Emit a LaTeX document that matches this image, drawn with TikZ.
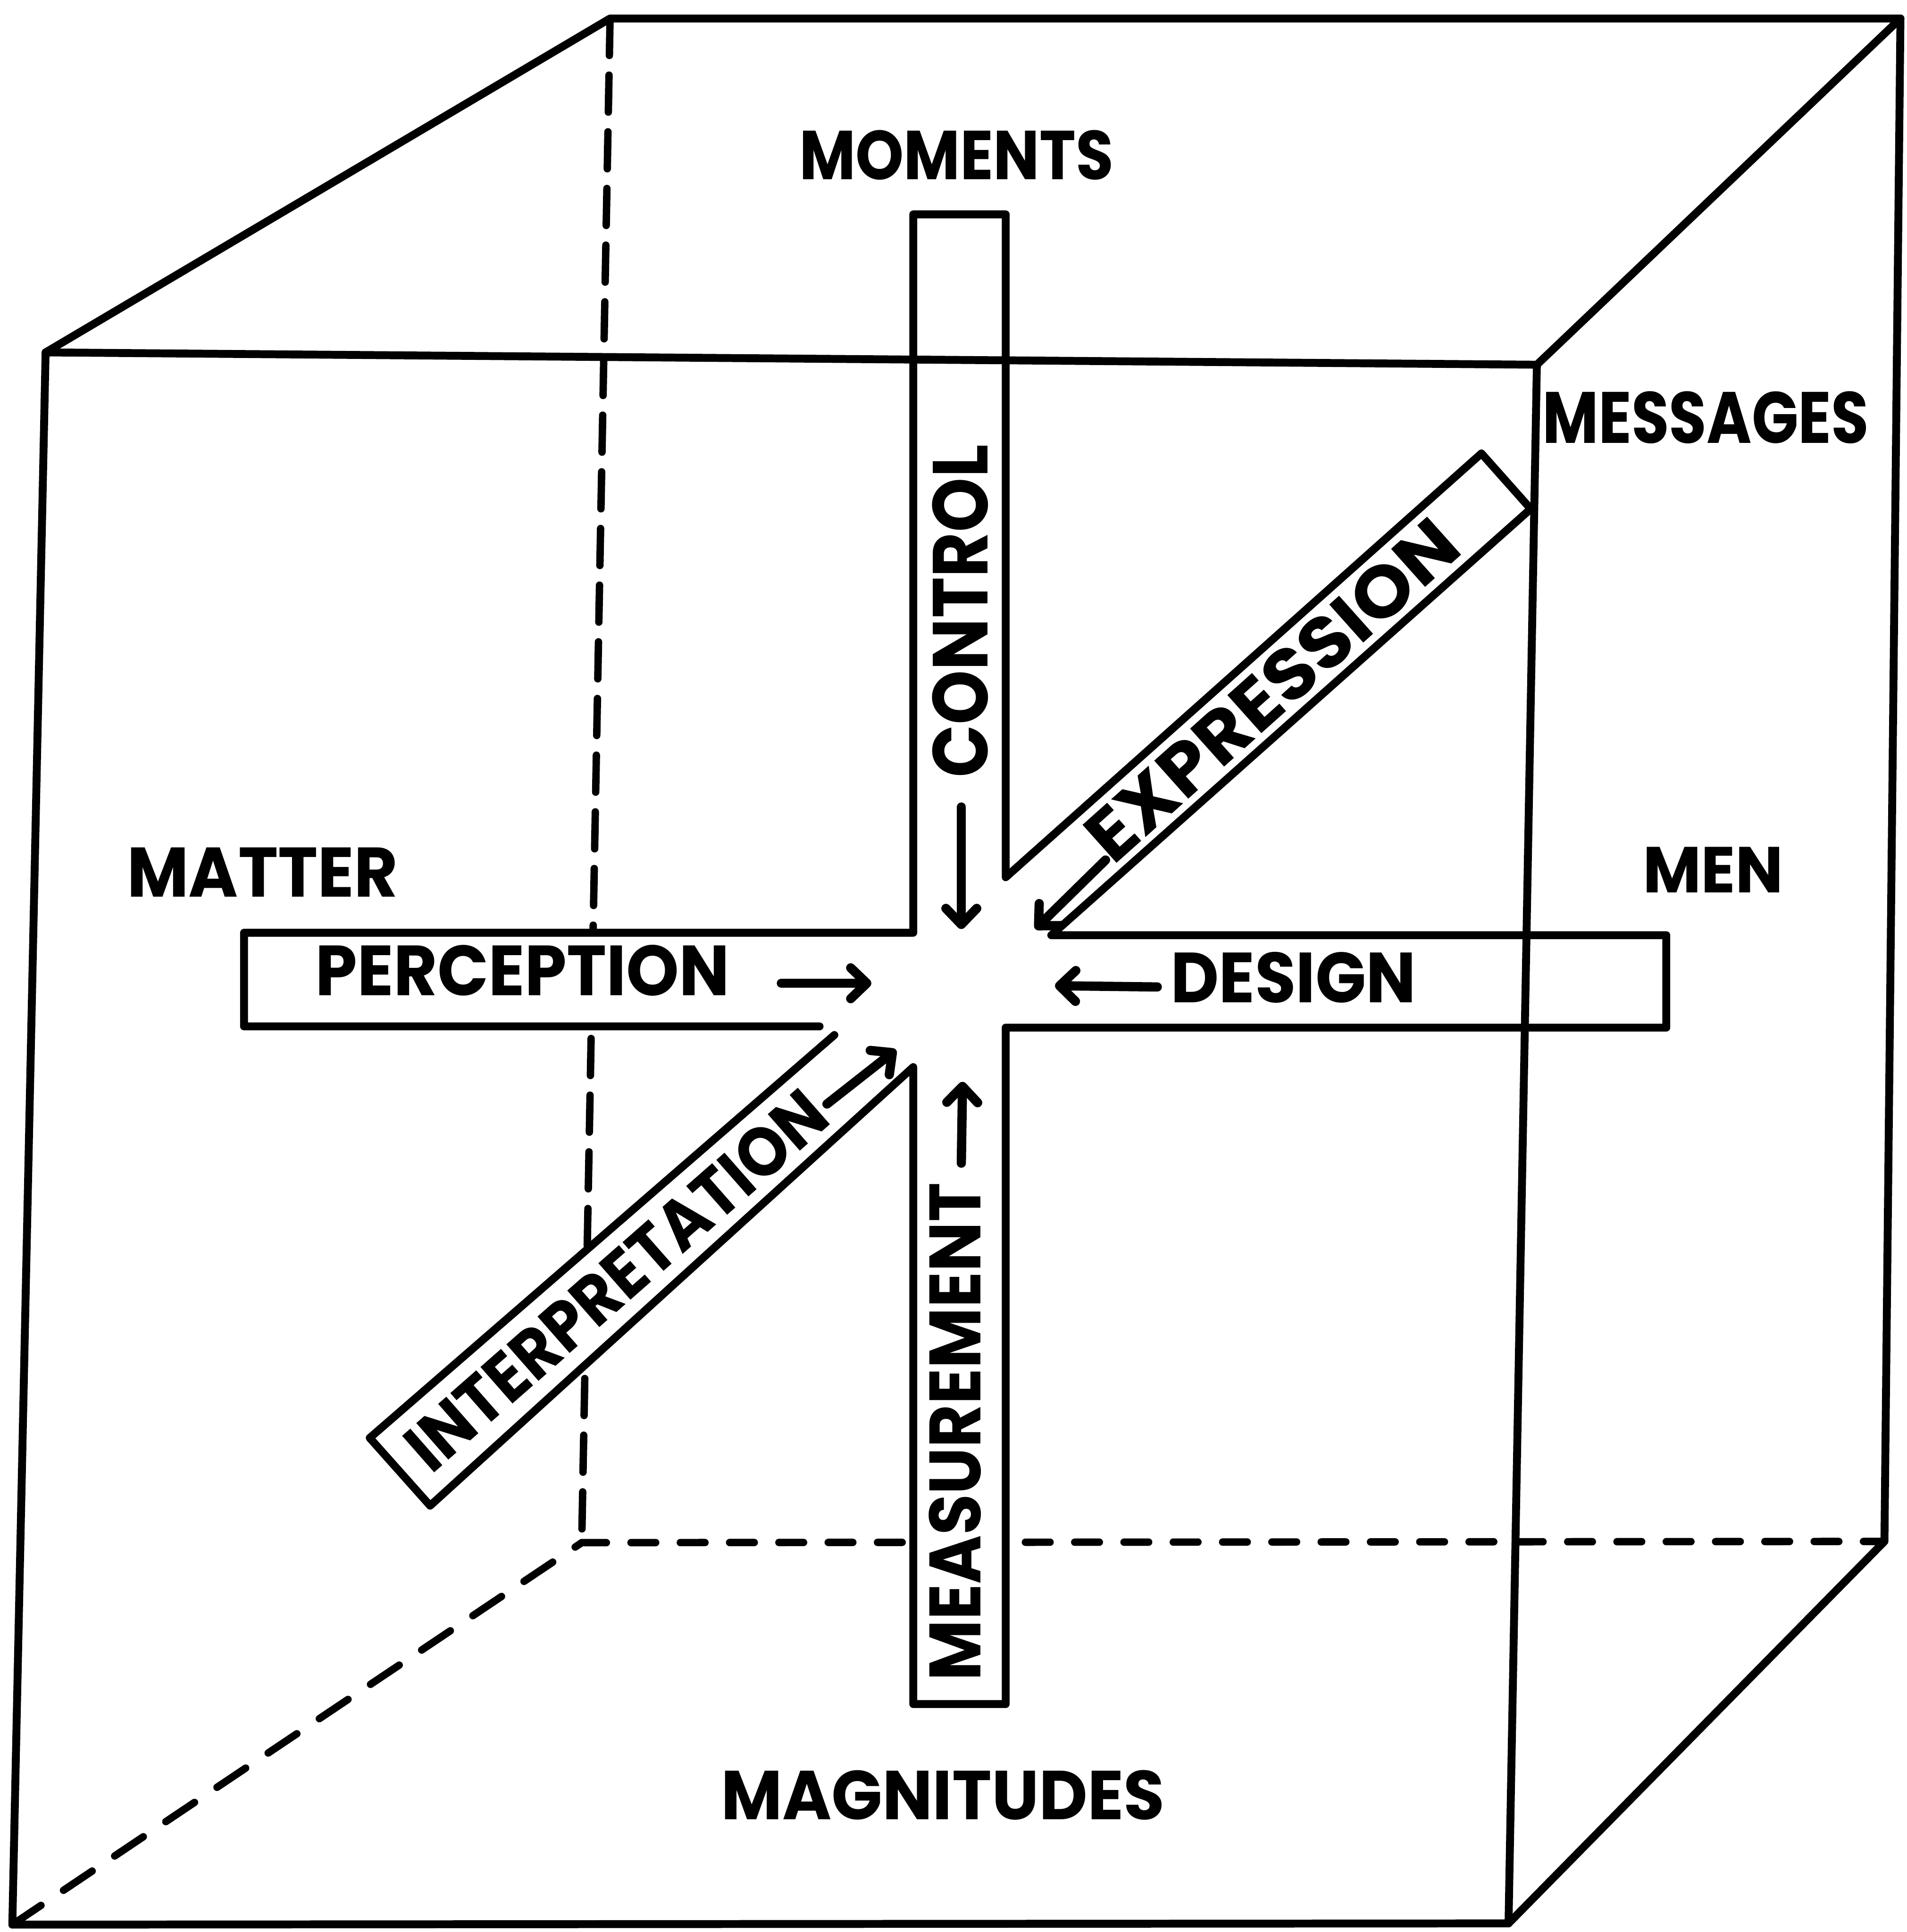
\documentclass[tikz,border=0pt]{standalone}
\usepackage{fontspec}
\setmainfont{Poppins}
\usetikzlibrary{arrows.meta}
\newcommand{\lbl}[3]{\resizebox{#1pt}{#2pt}{\bfseries #3}}
\begin{document}
\begin{tikzpicture}[x=1pt,y=-1pt,
  edge/.style={line width=6.4pt,line cap=round,line join=round},
  hidden/.style={line width=6pt,line cap=round},
  barline/.style={line width=6.4pt,line cap=round,line join=round},
  flow/.style={line width=7.5pt,line cap=round,-{Straight Barb[length=13pt,width=25pt,line cap=round,line join=round]}},
  lab/.style={inner sep=0pt,outer sep=0pt}]
\useasboundingbox (0,0) rectangle (1547,1568);
\fill[white] (0,0) rectangle (1547,1568);
% cube corners
\coordinate (A) at (37,286);
\coordinate (B) at (1247,296);
\coordinate (C) at (1224,1561);
\coordinate (D) at (10,1562);
\coordinate (E) at (495,15);
\coordinate (F) at (1542,15);
\coordinate (G) at (1529,1251);
\coordinate (H) at (472,1252);
% hidden edges
\draw[hidden,dash pattern=on 30pt off 16pt] (E) -- (H);
\draw[hidden,dash pattern=on 20pt off 20pt] (H) -- (G);
\draw[hidden,dash pattern=on 28pt off 22pt] (D) -- (H);
% cross outline
\coordinate (p0) at (665,833);
\coordinate (p1) at (198,833);
\coordinate (p2) at (198,757);
\coordinate (p3) at (741,757);
\coordinate (p4) at (741,174);
\coordinate (p5) at (816,174);
\coordinate (p6) at (816,712);
\coordinate (p7) at (1202,368);
\coordinate (p8) at (1242,413);
\coordinate (p9) at (853,759);
\coordinate (p10) at (1352,759);
\coordinate (p11) at (1352,834);
\coordinate (p12) at (816,834);
\coordinate (p13) at (816,1383);
\coordinate (p14) at (741,1383);
\coordinate (p15) at (741,866);
\coordinate (p16) at (349,1222);
\coordinate (p17) at (300,1167);
\coordinate (p18) at (677,840);
\fill[white] (p0) -- (p1) -- (p2) -- (p3) -- (p4) -- (p5) -- (p6) -- (p7) -- (p8) -- (p9) -- (p10) -- (p11) -- (p12) -- (p13) -- (p14) -- (p15) -- (p16) -- (p17) -- (p18) -- cycle;
\draw[barline] (p0) -- (p1) -- (p2) -- (p3) -- (p4) -- (p5) -- (p6) -- (p7) -- (p8) -- (p9) -- (p10) -- (p11) -- (p12) -- (p13) -- (p14) -- (p15) -- (p16) -- (p17) -- (p18);
% visible edges
\draw[edge] (A) -- (E) -- (F) -- (B);
\draw[edge] (F) -- (G) -- (C);
\draw[edge] (A) -- (B) -- (C) -- (D) -- cycle;
% labels
\node[lab] (moments) at (776,126) {\lbl{255}{40}{MOMENTS}};
\node[lab] (messages) at (1384,339) {\lbl{265}{42}{MESSAGES}};
\node[lab] (matter) at (213,708) {\lbl{220}{40}{MATTER}};
\node[lab] (men) at (1390,706) {\lbl{114}{37}{MEN}};
\node[lab] (magnitudes) at (765,1457) {\lbl{360}{40}{MAGNITUDES}};
\node[lab] (perception) at (424,787.5) {\lbl{336}{41}{PERCEPTION}};
\node[lab] (design) at (1049.5,793.5) {\lbl{199}{41}{DESIGN}};
\node[lab,rotate=90] (control) at (779,496) {\lbl{270}{45}{CONTROL}};
\node[lab,rotate=90] (measurement) at (775,1162) {\lbl{404}{42}{MEASUREMENT}};
\node[lab,rotate=41.8] (expression) at (1032,560) {\lbl{383}{42}{EXPRESSION}};
\node[lab,rotate=41.3] (interpretation) at (500,1039) {\lbl{434}{40}{INTERPRETATION}};
% flow arrows
\coordinate (ca0) at (780,655); \coordinate (ca1) at (780,754);
\coordinate (pa0) at (634,798); \coordinate (pa1) at (707,798);
\coordinate (da0) at (939,801); \coordinate (da1) at (856,800);
\coordinate (ma0) at (780,944); \coordinate (ma1) at (781,878);
\coordinate (ea0) at (897,698); \coordinate (ea1) at (840,754);
\coordinate (ia0) at (671,896); \coordinate (ia1) at (727,852);
\draw[flow] (ca0) -- (ca1);
\draw[flow] (pa0) -- (pa1);
\draw[flow] (da0) -- (da1);
\draw[flow] (ma0) -- (ma1);
\draw[flow] (ea0) -- (ea1);
\draw[flow] (ia0) -- (ia1);
\end{tikzpicture}
\end{document}
